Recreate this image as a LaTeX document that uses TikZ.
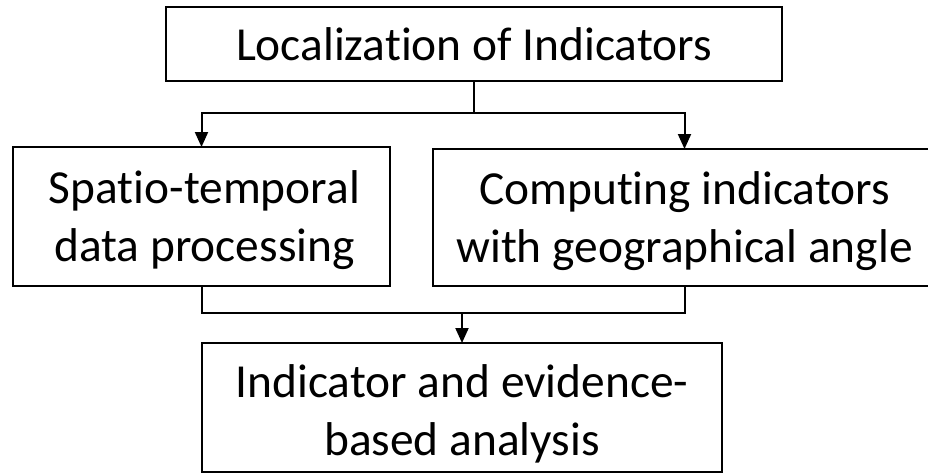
\documentclass[tikz,border=0pt]{standalone}
\usepackage{fontspec}
\setmainfont{Carlito}[Ligatures=NoCommon]
\usetikzlibrary{arrows.meta}
\begin{document}
\begin{tikzpicture}[x=1pt,y=-1pt,
  box/.style={draw=black, line width=2pt, fill=white, inner sep=0pt, outer sep=0pt,
    anchor=north west},
  txt/.style={inner sep=0pt, align=center, font=\fontsize{47.4}{58}\selectfont},
  conn/.style={draw=black, line width=2pt},
  arr/.style={conn, -{Triangle[width=13pt,length=15pt]}}]
\useasboundingbox (0,0) rectangle (928,474);
\node[box, minimum width=616pt, minimum height=74pt] (top) at (166,7) {};
\node[box, minimum width=377pt, minimum height=139pt] (left) at (13,147) {};
\node[box, minimum width=503pt, minimum height=137pt] (right) at (433,149) {};
\node[box, minimum width=520pt, minimum height=129pt] (bottom) at (202,343) {};
\node[txt] (toptext) at (top.center) {Localization of Indicators};
\node[txt] (lefttext) at ([xshift=3pt,yshift=-4pt]left.center) {Spatio-temporal\\data processing};
\node[txt] (righttext) at ([yshift=-4pt]right.center) {Computing indicators\\with geographical angle};
\node[txt] (bottomtext) at ([yshift=-6pt]bottom.center) {Indicator and evidence-\\based analysis};
\coordinate (jt) at (474,113);
\coordinate (jb) at (462,313);
\draw[conn] (top.south) -- (jt);
\draw[arr] (jt) -| (left.north);
\draw[arr] (jt) -| (right.north);
\draw[conn] (left.south) |- (jb);
\draw[conn] (right.south) |- (jb);
\draw[arr] (jb) -- (bottom.north);
\end{tikzpicture}
\end{document}
